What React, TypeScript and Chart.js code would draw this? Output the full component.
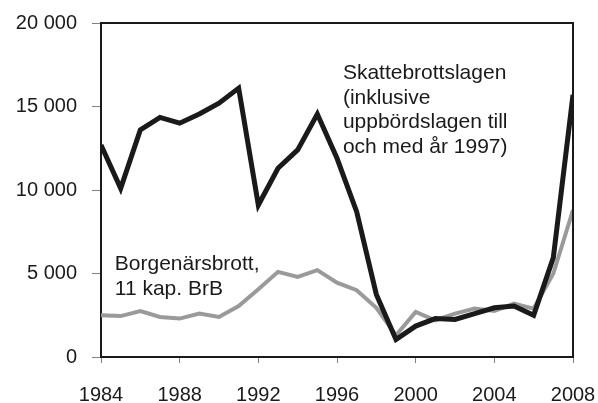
import React, { useEffect, useRef } from "react";
import { Chart, registerables } from "chart.js";

Chart.register(...registerables);

const years = [1984, 1985, 1986, 1987, 1988, 1989, 1990, 1991, 1992, 1993, 1994, 1995, 1996, 1997, 1998, 1999, 2000, 2001, 2002, 2003, 2004, 2005, 2006, 2007, 2008];
const skattebrott = [12700, 10100, 13600, 14350, 14000, 14550, 15200, 16100, 9100, 11300, 12400, 14550, 11900, 8700, 3750, 1050, 1850, 2300, 2250, 2600, 2950, 3050, 2500, 5950, 15700];
const borgenar = [2500, 2450, 2750, 2400, 2300, 2600, 2400, 3050, 4050, 5100, 4800, 5200, 4450, 4000, 2950, 1300, 2700, 2200, 2600, 2900, 2750, 3200, 2900, 5000, 8800];
const yTicks = [0, 5000, 10000, 15000, 20000];
const xTickStep = 4;
const labelSkatt = ["Skattebrottslagen", "(inklusive", "uppbördslagen till", "och med år 1997)"];
const labelBorgen = ["Borgenärsbrott,", "11 kap. BrB"];
const labelSkattAnchor = { x: 1996.3, y: 16650 };
const labelBorgenAnchor = { x: 1984.7, y: 5200 };

const FONT = "'Liberation Sans', Arial, Helvetica, sans-serif";
const INK = "#1a1a1a";

const fmt = (v: number) => String(v).replace(/\B(?=(\d{3})+(?!\d))/g, " ");

const textPlugin = {
  id: "textLabels",
  afterDatasetsDraw(chart: any) {
    const { ctx, scales } = chart;
    const xs = scales.x;
    const ys = scales.y;
    ctx.save();
    ctx.fillStyle = INK;
    ctx.font = `21px ${FONT}`;
    ctx.textAlign = "left";
    ctx.textBaseline = "alphabetic";
    const draw = (lines: string[], a: { x: number; y: number }) => {
      const px = xs.getPixelForValue(a.x);
      const py = ys.getPixelForValue(a.y);
      lines.forEach((l, i) => ctx.fillText(l, px, py + i * 24.7));
    };
    draw(labelSkatt, labelSkattAnchor);
    draw(labelBorgen, labelBorgenAnchor);
    const ca = chart.chartArea;
    ctx.strokeStyle = INK;
    ctx.lineWidth = 2;
    ctx.beginPath();
    ctx.moveTo(ca.left, ca.top);
    ctx.lineTo(ca.right, ca.top);
    ctx.lineTo(ca.right, ca.bottom);
    ctx.stroke();
    ctx.restore();
  },
};

export default function App() {
  const ref = useRef<HTMLCanvasElement | null>(null);
  useEffect(() => {
    if (!ref.current) return;
    const chart = new Chart(ref.current, {
      type: "line",
      data: {
        datasets: [
          {
            label: "Skattebrottslagen",
            data: years.map((y, i) => ({ x: y, y: skattebrott[i] })),
            borderColor: INK,
            borderWidth: 5,
            pointRadius: 0,
            tension: 0,
            order: 0,
          },
          {
            label: "Borgenärsbrott",
            data: years.map((y, i) => ({ x: y, y: borgenar[i] })),
            borderColor: "#9a9a9a",
            borderWidth: 4,
            pointRadius: 0,
            tension: 0,
            order: 1,
          },
        ],
      },
      options: {
        animation: false,
        responsive: false,
        maintainAspectRatio: false,
        layout: { padding: { top: 23, right: 25, left: 0, bottom: 0 } },
        plugins: { legend: { display: false }, tooltip: { enabled: false } },
        scales: {
          x: {
            type: "linear",
            min: years[0],
            max: years[years.length - 1],
            afterBuildTicks: (s: any) => {
              const t = [];
              for (let v = years[0]; v <= years[years.length - 1]; v += xTickStep) t.push({ value: v });
              s.ticks = t;
            },
            afterFit: (s: any) => {
              s.height = 46;
              s.paddingLeft = 0;
              s.paddingRight = 0;
            },
            grid: { drawOnChartArea: false, tickLength: 6, tickColor: "#808080", tickWidth: 1 },
            border: { color: INK, width: 2 },
            ticks: {
              color: INK,
              font: { family: FONT, size: 20 },
              padding: 20,
              maxRotation: 0,
              callback: (v: any) => String(v),
            },
          },
          y: {
            min: 0,
            max: 20000,
            afterBuildTicks: (s: any) => {
              s.ticks = yTicks.map((v) => ({ value: v }));
            },
            afterFit: (s: any) => {
              s.width = 101;
              s.paddingTop = 0;
              s.paddingBottom = 0;
            },
            grid: { drawOnChartArea: false, tickLength: 9, tickColor: "#808080", tickWidth: 1 },
            border: { color: INK, width: 2 },
            ticks: {
              color: INK,
              font: { family: FONT, size: 20 },
              padding: 15,
              callback: (v: any) => fmt(Number(v)),
            },
          },
        },
      },
      plugins: [textPlugin],
    });
    return () => chart.destroy();
  }, []);
  return (
    <div style={{ position: "fixed", left: 0, top: 0, width: 598, height: 403, background: "#fff" }}>
      <canvas ref={ref} width={598} height={403} style={{ display: "block" }} />
    </div>
  );
}
